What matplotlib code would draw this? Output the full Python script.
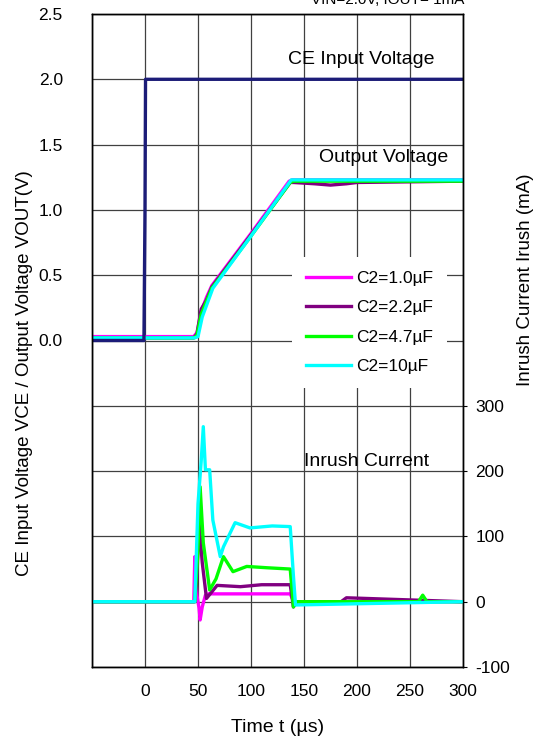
import matplotlib.pyplot as plt
from matplotlib.ticker import FixedLocator, FuncFormatter

plt.rcParams["font.family"] = ["Liberation Sans", "DejaVu Sans"]
plt.rcParams["axes.unicode_minus"] = False

# =========================
# DATA
# =========================
series_labels = ["C2=1.0µF", "C2=2.2µF", "C2=4.7µF", "C2=10µF"]
series_colors = ["#ff00ff", "#800080", "#00ff00", "#00ffff"]

# CE input voltage (V)
t_ce = [-50, -1, 0, 0.5, 300]
v_ce = [0.0, 0.0, 1.0, 2.0, 2.0]

# output voltage (V)
t_out_1 = [-50, 46, 49, 53, 58, 63, 100, 136, 139, 300]
v_out_1 = [0.03, 0.03, 0.06, 0.22, 0.33, 0.42, 0.82, 1.22, 1.23, 1.23]
t_out_2 = [-50, 46, 49, 53, 58, 63, 100, 137, 140, 160, 175, 190, 200, 300]
v_out_2 = [0.02, 0.02, 0.05, 0.24, 0.31, 0.41, 0.81, 1.21, 1.21, 1.20, 1.19, 1.20, 1.21, 1.22]
t_out_3 = [-50, 46, 49, 53, 58, 63, 100, 137, 140, 300]
v_out_3 = [0.02, 0.02, 0.04, 0.20, 0.30, 0.40, 0.80, 1.21, 1.22, 1.22]
t_out_4 = [-50, 47, 50, 54, 59, 64, 100, 138, 141, 300]
v_out_4 = [0.02, 0.02, 0.03, 0.18, 0.29, 0.40, 0.80, 1.23, 1.23, 1.23]

# inrush current (mA)
t_irush_1 = [-50, 46, 47, 49, 51, 52, 54, 57, 60, 100, 137, 139, 142, 300]
i_irush_1 = [0, 0, 69, 10, -10, -28, -8, 10, 12, 12, 12, 5, 0, 0]
t_irush_2 = [-50, 47, 49, 51, 54, 58, 63, 68, 90, 110, 137, 140, 143, 185, 190, 300]
i_irush_2 = [0, 0, 40, 121, 60, 5, 15, 25, 23, 26, 26, -8, 0, 0, 6, 0]
t_irush_3 = [-50, 47, 50, 52, 55, 61, 67, 74, 83, 96, 115, 137, 140, 143, 258, 262, 266, 300]
i_irush_3 = [0, 0, 80, 176, 90, 18, 35, 69, 46, 54, 52, 50, -8, 0, 0, 10, 0, 0]
t_irush_4 = [-50, 47, 50, 53, 55, 57, 61, 64, 71, 74, 85, 99, 120, 137, 140, 142, 300]
i_irush_4 = [0, 0, 150, 215, 268, 202, 202, 125, 69, 84, 121, 113, 116, 115, 40, -5, 0]

# =========================
# FIGURE
# =========================
fig = plt.figure(figsize=(5.44, 7.47), dpi=100)
ax = fig.add_axes([92 / 544, 80 / 747, (463 - 92) / 544, (667 - 14) / 747])
ax2 = ax.twinx()

# voltage traces
for t, v, c in zip([t_out_1, t_out_2, t_out_3, t_out_4],
                   [v_out_1, v_out_2, v_out_3, v_out_4], series_colors):
    ax.plot(t, v, color=c, lw=2.4, solid_joinstyle="round")
ax.plot(t_ce, v_ce, color="#1c1c78", lw=2.4)

# inrush current traces
handles = []
for t, i, c, lab in zip([t_irush_1, t_irush_2, t_irush_3, t_irush_4],
                        [i_irush_1, i_irush_2, i_irush_3, i_irush_4],
                        series_colors, series_labels):
    h, = ax2.plot(t, i, color=c, lw=2.4, label=lab, solid_joinstyle="round")
    handles.append(h)

# =========================
# AXES
# =========================
ax.set_xlim(-50, 300)
ax.set_ylim(-2.5, 2.5)
ax2.set_ylim(-100, 900)

ax.xaxis.set_major_locator(FixedLocator([-50, 0, 50, 100, 150, 200, 250, 300]))
ax.xaxis.set_major_formatter(FuncFormatter(lambda x, p: "" if x < 0 else f"{x:.0f}"))
ax.yaxis.set_major_locator(FixedLocator([-2.5 + 0.5 * k for k in range(11)]))
ax.yaxis.set_major_formatter(FuncFormatter(lambda y, p: "" if y < -1e-9 else f"{y:.1f}"))
ax2.yaxis.set_major_locator(FixedLocator([-100, 0, 100, 200, 300]))

ax.tick_params(axis="x", length=0, pad=12, labelsize=12.5)
ax.tick_params(axis="y", length=0, pad=21, labelsize=12.5)
ax2.tick_params(axis="y", length=3, direction="out", pad=6, labelsize=12.5)

ax.grid(True, color="#404040", lw=0.9)
ax.set_axisbelow(True)
for sp in list(ax.spines.values()) + list(ax2.spines.values()):
    sp.set_linewidth(1.0)
    sp.set_color("black")

ax.set_xlabel("Time t (µs)", fontsize=14)
ax.xaxis.set_label_coords(0.5, -0.08)
ax.set_ylabel("CE Input Voltage VCE / Output Voltage VOUT(V)", fontsize=13.5)
ax.yaxis.set_label_coords(-0.16, 0.45)
ax2.set_ylabel("Inrush Current Irush (mA)", fontsize=13.5)
ax2.yaxis.set_label_coords(1.146, 0.593)

# =========================
# ANNOTATIONS
# =========================
ax.text(273, 2.15, "CE Input Voltage", ha="right", va="center", fontsize=14)
ax.text(286, 1.405, "Output Voltage", ha="right", va="center", fontsize=14)
ax2.text(209, 214, "Inrush Current", ha="center", va="center", fontsize=14)

leg = ax2.legend(handles=handles, loc="upper left", bbox_to_anchor=(0.54, 0.628),
                 frameon=True, fontsize=12.5, handlelength=2.6, labelspacing=0.82,
                 borderpad=0.8, handletextpad=0.3, borderaxespad=0)
leg.get_frame().set_edgecolor("none")
leg.get_frame().set_facecolor("white")
leg.get_frame().set_alpha(1.0)
leg.get_frame().set_boxstyle("square", pad=0)

fig.text(388 / 544, 1 - 4 / 747, "VIN=2.0V, IOUT= 1mA", ha="center", va="baseline", fontsize=11)

fig.savefig("out.png", dpi=100)
